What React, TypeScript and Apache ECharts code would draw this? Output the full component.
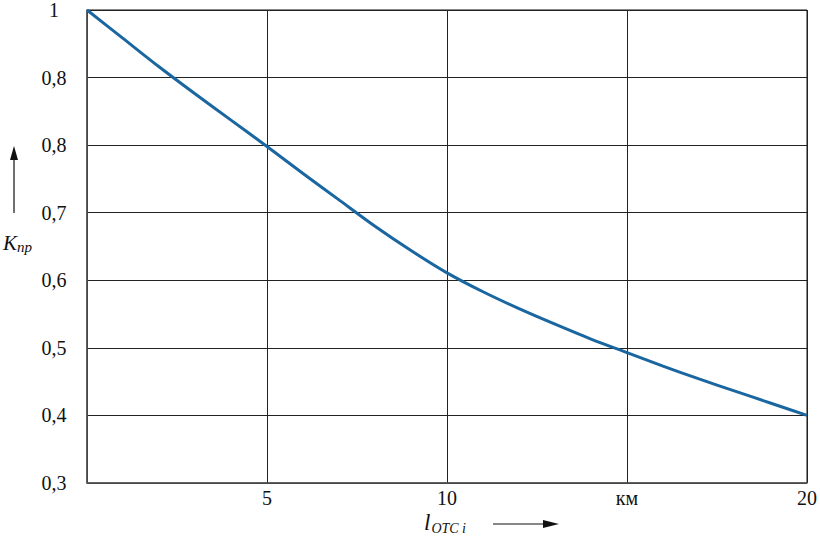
import React, { useEffect, useRef } from "react";
import * as echarts from "echarts";

const xValues = [0, 1, 2, 3, 4, 5, 6, 7, 8, 9, 10, 11, 12, 13, 14, 15, 16, 17, 18, 19, 20];
const kValues = [1.0, 0.958, 0.916, 0.876, 0.837, 0.798, 0.758, 0.719, 0.68, 0.644, 0.611, 0.583, 0.558, 0.535, 0.513, 0.493, 0.473, 0.454, 0.436, 0.418, 0.4];
const yTickLabels = ["0,3", "0,4", "0,5", "0,6", "0,7", "0,8", "0,8", "1"];
const xTickLabels = ["", "5", "10", "км", "20"];

export default function App() {
  const ref = useRef<HTMLDivElement>(null);
  useEffect(() => {
    if (!ref.current) return;
    const chart = echarts.init(ref.current, null, { renderer: "svg" });
    const font = "serif";
    chart.setOption({
      animation: false,
      backgroundColor: "#fff",
      grid: { left: 87, top: 10, right: 12, bottom: 53, show: true, borderColor: "#111", borderWidth: 1 },
      xAxis: {
        type: "value",
        min: 0,
        max: 20,
        interval: 5,
        axisLine: { show: true, lineStyle: { color: "#555", width: 1.5 } },
        axisTick: { show: false },
        splitLine: { show: true, lineStyle: { color: "#222", width: 1 } },
        axisLabel: {
          color: "#111",
          fontFamily: font,
          fontSize: 20,
          margin: 5,
          formatter: (_v: number, i: number) => xTickLabels[i] ?? "",
        },
      },
      yAxis: {
        type: "value",
        min: 0.3,
        max: 1,
        interval: 0.1,
        axisLine: { show: true, lineStyle: { color: "#555", width: 1.5 } },
        axisTick: { show: false },
        splitLine: { show: true, lineStyle: { color: "#222", width: 1 } },
        axisLabel: {
          color: "#111",
          fontFamily: font,
          fontSize: 20,
          margin: 33,
          align: "center",
          formatter: (_v: number, i: number) => yTickLabels[i] ?? "",
        },
      },
      series: [
        {
          type: "line",
          data: xValues.map((x, i) => [x, kValues[i]]),
          smooth: 0.3,
          showSymbol: false,
          lineStyle: { color: "#1a66a0", width: 3 },
        },
      ],
      graphic: [
        { type: "line", shape: { x1: 14, y1: 213, x2: 14, y2: 155 }, style: { stroke: "#111", lineWidth: 1.2 } },
        { type: "polygon", shape: { points: [[10, 160], [18, 160], [14, 146]] }, style: { fill: "#111" } },
        {
          type: "text",
          x: 3,
          y: 231,
          style: {
            text: "{k|K}{s|пр}",
            rich: {
              k: { fontFamily: font, fontStyle: "italic", fontSize: 21, fill: "#111" },
              s: { fontFamily: font, fontStyle: "italic", fontSize: 15, fill: "#111", padding: [8, 0, 0, 0] },
            },
          },
        },
        {
          type: "text",
          x: 424,
          y: 510,
          style: {
            text: "{k|l}{s|OTC i}",
            rich: {
              k: { fontFamily: font, fontStyle: "italic", fontSize: 23, fill: "#111" },
              s: { fontFamily: font, fontStyle: "italic", fontSize: 14, fill: "#111", padding: [11, 0, 0, 1] },
            },
          },
        },
        { type: "line", shape: { x1: 493, y1: 524, x2: 548, y2: 524 }, style: { stroke: "#111", lineWidth: 1.2 } },
        { type: "polygon", shape: { points: [[543, 520], [543, 528], [559, 524]] }, style: { fill: "#111" } },
      ],
    });
    return () => chart.dispose();
  }, []);
  return <div ref={ref} style={{ width: 820, height: 536, position: "absolute", left: 0, top: 0 }} />;
}
